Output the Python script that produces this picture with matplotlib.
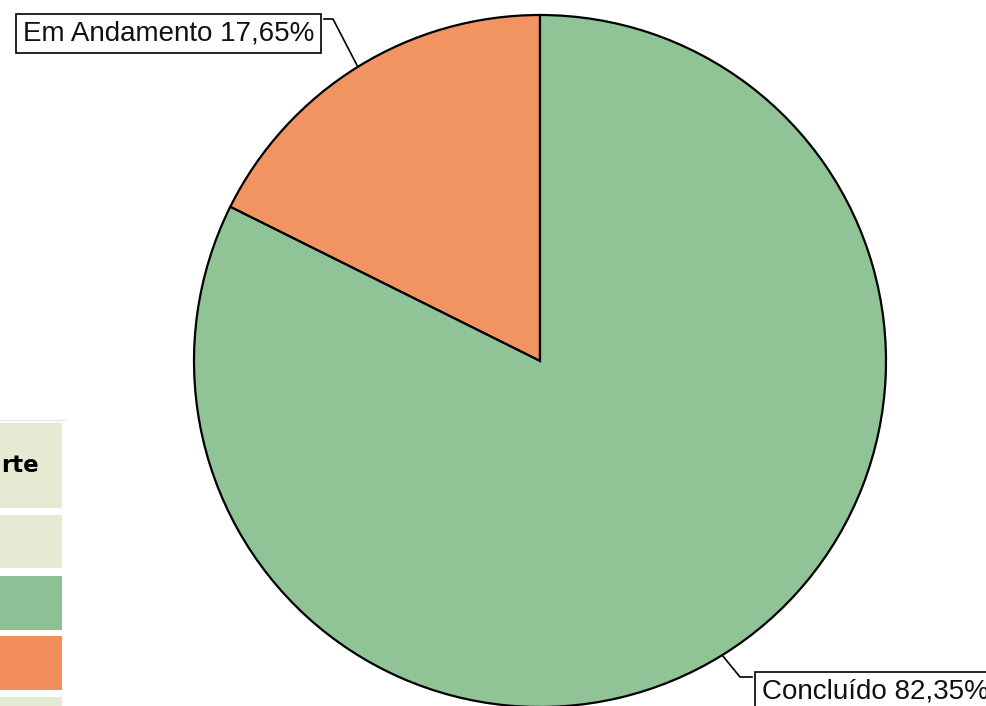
import numpy as np
import matplotlib

matplotlib.use("Agg")
import matplotlib.pyplot as plt
from matplotlib.patches import Rectangle

plt.rcParams["font.family"] = ["Liberation Sans", "DejaVu Sans"]

# data
labels = ["Em Andamento", "Concluído"]
values = [17.65, 82.35]
colors = ["#F29462", "#90C396"]

# partial table visible at the left edge (screenshot fragment)
table_cells = ["#E5EBD2", "#E5EBD2", "#8DC195", "#F28E5A", "#E5EBD2"]
table_header = "rte"

W, H = 987, 706
fig = plt.figure(figsize=(W / 100, H / 100), dpi=100)
ax = fig.add_axes([0, 0, 1, 1])

cx, cy, r = 540, H - 361, 346
wedges, _ = ax.pie(
    values,
    colors=colors,
    startangle=90,
    counterclock=True,
    center=(cx, cy),
    radius=r,
    wedgeprops={"edgecolor": "black", "linewidth": 1.6},
    frame=True,
)
ax.set_xlim(0, W)
ax.set_ylim(0, H)
ax.set_aspect("equal")
ax.axis("off")

# labels with elbow leader lines
label_pos = [
    {"elbow": (333, H - 19), "box": (324, H - 19), "ha": "right"},
    {"elbow": (740, H - 677), "box": (752, H - 677), "ha": "left"},
]
for w, name, val, pos in zip(wedges, labels, values, label_pos):
    ang = np.deg2rad((w.theta1 + w.theta2) / 2)
    px, py = cx + r * np.cos(ang), cy + r * np.sin(ang)
    ex, ey = pos["elbow"]
    bx, by = pos["box"]
    ax.plot([px, ex, bx], [py, ey, by], color="black", lw=1.2, zorder=3)
    txt = f"{name} {val:.2f}%".replace(".", ",")
    tx = bx - 10 if pos["ha"] == "right" else bx + 10
    ax.text(tx, by - 14.5, txt, ha=pos["ha"], va="center", fontsize=20, color="#111111",
            bbox=dict(boxstyle="square,pad=0.24", fc="white", ec="black", lw=1.2), zorder=4)

# table fragment on the left
ax.plot([0, 66], [H - 420, H - 420], color="#E6E6E6", lw=1.0)
cell_rows = [(423, 508), (515, 568), (576, 630), (636, 690), (697, 720)]
for (top, bot), c in zip(cell_rows, table_cells):
    ax.add_patch(Rectangle((0, H - bot), 62, bot - top, fc=c, ec="none", zorder=1))
ax.text(1, H - 465, table_header, ha="left", va="center", fontsize=16.5,
        fontweight="bold", family=["DejaVu Sans"], color="black")

fig.savefig("out.png", dpi=100)
